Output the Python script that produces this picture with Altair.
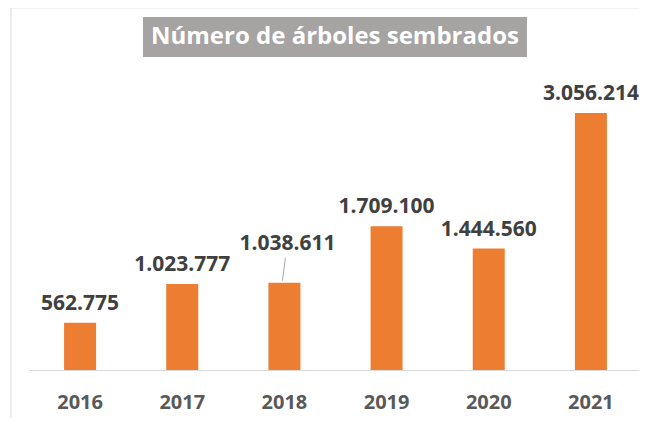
import altair as alt
import pandas as pd

years = ["2016", "2017", "2018", "2019", "2020", "2021"]
values = [562775, 1023777, 1038611, 1709100, 1444560, 3056214]
title_text = "Número de árboles sembrados"
leader_year = "2018"

labels = [f"{v:,}".replace(",", ".") for v in values]
df = pd.DataFrame({"year": years, "value": values, "label": labels})

FONT = "Open Sans"
BAR = "#ED7D31"

x = alt.X("year:N", sort=years,
          scale=alt.Scale(paddingInner=0, paddingOuter=0, range=[0, 613]),
          axis=alt.Axis(title=None, labelAngle=0, ticks=False, domain=True,
                        domainColor="#d9d9d9", domainWidth=1,
                        labelFont=FONT, labelFontWeight="bold", labelFontSize=20,
                        labelColor="#595959", labelBaseline="alphabetic",
                        labelPadding=38, grid=False))
y = alt.Y("value:Q", scale=alt.Scale(domain=[0, 3567000], nice=False),
          axis=None)

base = alt.Chart(df)

bars = base.mark_bar(color=BAR, size=32).encode(x=x, y=y)

lab_normal = base.transform_filter(alt.datum.year != leader_year).mark_text(
    font=FONT, fontWeight="bold", fontSize=21, color="#404040",
    baseline="alphabetic", dy=-13).encode(x=x, y=y, text="label:N")

lab_leader = base.transform_filter(alt.datum.year == leader_year).mark_text(
    font=FONT, fontWeight="bold", fontSize=21, color="#404040",
    baseline="alphabetic", dy=-33, dx=3).encode(x=x, y=y, text="label:N")

leader = base.transform_filter(alt.datum.year == leader_year).mark_rule(
    color="#a6a6a6", strokeWidth=1, xOffset=-2, x2Offset=1,
    yOffset=-2, y2Offset=-25).encode(
    x=x, x2="year:N", y=y, y2="value:Q")

deco = alt.Chart(pd.DataFrame({"t": [title_text]}))

frame_left = deco.mark_rule(color="#d9d9d9", strokeWidth=1).encode(
    x=alt.value(-18), y=alt.value(-62), y2=alt.value(420))
frame_top = deco.mark_rule(color="#e6e6e6", strokeWidth=1).encode(
    x=alt.value(-18), x2=alt.value(640), y=alt.value(-62))

title_box = deco.mark_rect(color="#a6a3a3").encode(
    x=alt.value(114), x2=alt.value(498), y=alt.value(-53), y2=alt.value(-13))
title = deco.mark_text(font=FONT, fontWeight="bold", fontSize=24, color="white",
                       align="center", baseline="middle").encode(
    x=alt.value(306), y=alt.value(-33), text="t:N")

chart = alt.layer(frame_left, frame_top, title_box, title, bars, leader,
                  lab_normal, lab_leader).properties(
    width=610, height=300,
    autosize=alt.AutoSizeParams(type="none"),
    padding={"left": 21, "top": 62, "right": 0, "bottom": 48},
    background="white",
).configure_view(stroke=None)

chart.save("out.html", embed_options={"renderer": "svg", "actions": False})
